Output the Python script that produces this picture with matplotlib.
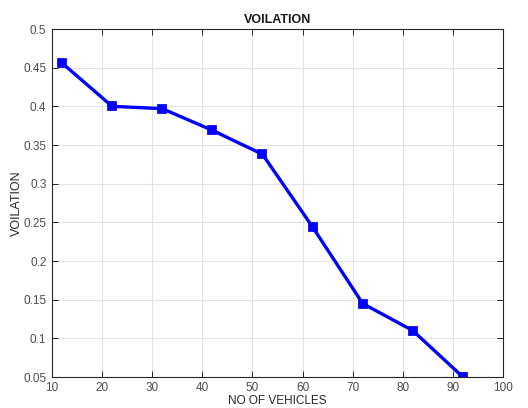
import matplotlib.pyplot as plt

# データ
vehicles = [12, 22, 32, 42, 52, 62, 72, 82, 92]
violation = [0.456, 0.400, 0.397, 0.369, 0.338, 0.244, 0.145, 0.110, 0.050]
x_ticks = [10, 20, 30, 40, 50, 60, 70, 80, 90, 100]
y_ticks = [0.05, 0.1, 0.15, 0.2, 0.25, 0.3, 0.35, 0.4, 0.45, 0.5]

plt.rcParams['font.family'] = ['Liberation Sans', 'DejaVu Sans']

fig = plt.figure(figsize=(5.28, 4.08), dpi=100)
ax = fig.add_axes([52 / 528, 1 - 377 / 408, 451 / 528, 348 / 408])

ax.plot(vehicles, violation, color="#0000ff", linewidth=2.4,
        marker="s", markersize=5, markerfacecolor="none",
        markeredgecolor="#0000ff", markeredgewidth=2.7)

ax.set_xlim(10, 100)
ax.set_ylim(0.05, 0.5)
ax.set_xticks(x_ticks)
ax.set_yticks(y_ticks)
ax.set_xticklabels([str(v) for v in x_ticks])
ax.set_yticklabels(["0.05", "0.1", "0.15", "0.2", "0.25", "0.3", "0.35", "0.4", "0.45", "0.5"])

ax.grid(True, color="#e3e3e3", linewidth=0.8)
ax.set_axisbelow(True)
ax.tick_params(direction="in", top=True, right=True, length=4, width=0.7,
               colors="#262626", labelcolor="#4d4d4d", labelsize=8.5)
ax.tick_params(axis="x", pad=3.5)
ax.tick_params(axis="y", pad=4)
for s in ax.spines.values():
    s.set_color("#262626")
    s.set_linewidth(0.8)

ax.set_title("VOILATION", fontsize=9, fontweight="bold", color="#1a1a1a", pad=4)
ax.set_ylabel("VOILATION", fontsize=9, color="#262626", labelpad=0.5)
# xラベル（下端ぎりぎり）
fig.text(277 / 528, 0.5 / 408, "NO OF VEHICLES", fontsize=8.5, color="#262626",
         ha="center", va="bottom")

fig.savefig("out.png", dpi=100)
